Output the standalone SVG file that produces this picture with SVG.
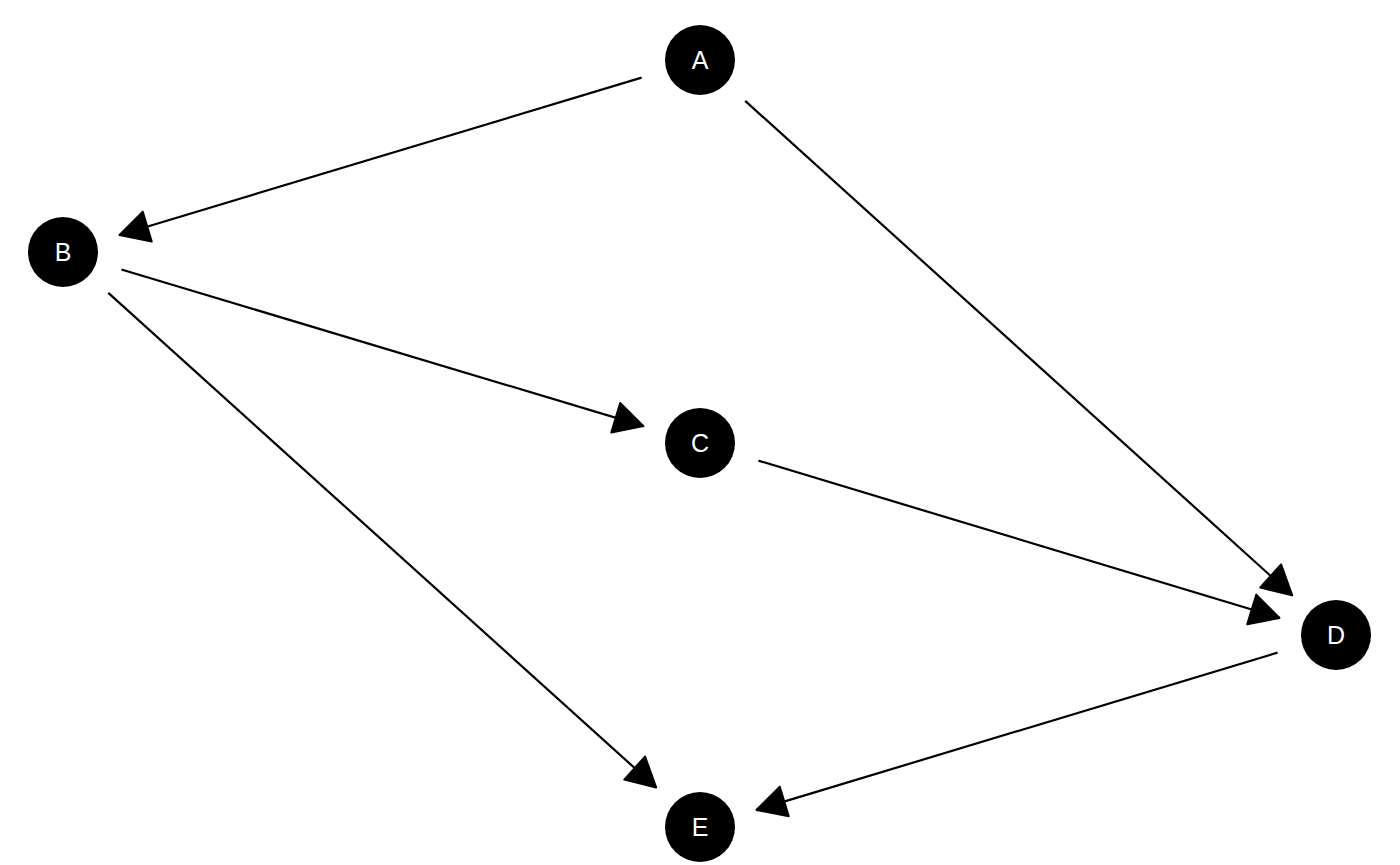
<svg xmlns="http://www.w3.org/2000/svg" width="1400" height="865" viewBox="0 0 1400 865">
<style>
.node circle{fill:#000}
.node text{fill:#fff;font-family:"Liberation Sans",Arial,sans-serif;font-size:25px;text-anchor:middle}
.edge{stroke:#000;stroke-width:2.2;fill:none;marker-end:url(#ah)}
</style>
<defs>
<marker id="ah" markerUnits="userSpaceOnUse" viewBox="-36 -20 40 40" refX="0" refY="0" markerWidth="40" markerHeight="40" orient="auto" overflow="visible">
<path d="M0,0 L-29,-15.5 L-29,15.5 Z" fill="#000" stroke="#000" stroke-width="2" stroke-linejoin="round"/>
</marker>
</defs>
<rect width="1400" height="865" fill="#fff"/>
<g id="connectors">
<line class="edge" x1="641.6" y1="77.6" x2="119.5" y2="235.0"/>
<line class="edge" x1="745.2" y1="100.9" x2="1292.2" y2="595.4"/>
<line class="edge" x1="121.4" y1="269.5" x2="643.5" y2="426.1"/>
<line class="edge" x1="108.3" y1="292.9" x2="656.2" y2="787.5"/>
<line class="edge" x1="758.4" y1="460.6" x2="1279.5" y2="617.9"/>
<line class="edge" x1="1277.6" y1="652.6" x2="756.5" y2="809.9"/>
</g>
<g id="A" class="node"><circle cx="700" cy="60" r="35"/><text x="700" y="69">A</text></g>
<g id="B" class="node"><circle cx="63" cy="252" r="35"/><text x="63" y="261">B</text></g>
<g id="C" class="node"><circle cx="700" cy="443" r="35"/><text x="700" y="452">C</text></g>
<g id="D" class="node"><circle cx="1336" cy="635" r="35"/><text x="1336" y="644">D</text></g>
<g id="E" class="node"><circle cx="700" cy="827" r="35"/><text x="700" y="836">E</text></g>
</svg>
